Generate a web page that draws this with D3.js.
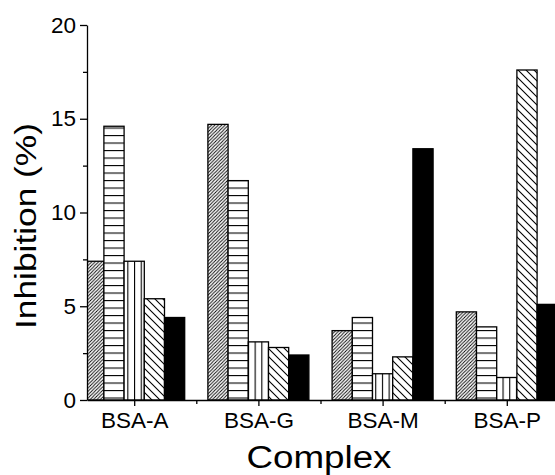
<!DOCTYPE html>
<html>
<head>
<style>
  body { margin: 0; background: #fff; }
  .axis text { font-family: "Liberation Sans", Arial, sans-serif; font-size: 22.5px; fill: #000; }
  .axis path, .axis line { stroke: #000; stroke-width: 1.3px; }
  .title { font-family: "Liberation Sans", Arial, sans-serif; fill: #000; }
</style>
<script src="https://d3js.org/d3.v7.min.js"></script>
</head>
<body>
<svg width="555" height="475"></svg>
<script>
// data
var complexes = ["BSA-A", "BSA-G", "BSA-M", "BSA-P"];
var series1 = [7.4, 14.7, 3.7, 4.7];   // "/" hatch
var series2 = [14.6, 11.7, 4.4, 3.9];  // horizontal lines
var series3 = [7.4, 3.1, 1.4, 1.2];    // vertical lines
var series4 = [5.4, 2.8, 2.3, 17.6];   // "\" hatch
var series5 = [4.4, 2.4, 13.4, 5.1];   // solid
var yTicks = [0, 5, 10, 15, 20];

var allSeries = [series1, series2, series3, series4, series5];
var fills = ["url(#hatchA)", "url(#hatchH)", "url(#hatchV)", "url(#hatchB)", "#000"];

var svg = d3.select("svg");
var plotLeft = 87, plotBottom = 400, plotTop = 25;

var y = d3.scaleLinear().domain([0, 20]).range([plotBottom, plotTop]);
// group index scale, groups sit at 1..4
var x = d3.scaleLinear().domain([0.62, 4.4]).range([plotLeft, plotLeft + 3.78 * 124.2]);
var barW = 20.2;

var defs = svg.append("defs");

function pattern(id, w, h, d, sw) {
  var p = defs.append("pattern")
    .attr("id", id)
    .attr("patternUnits", "userSpaceOnUse")
    .attr("width", w).attr("height", h);
  p.append("rect").attr("width", w).attr("height", h).attr("fill", "#fff");
  p.append("path").attr("d", d).attr("stroke", "#000").attr("stroke-width", sw).attr("fill", "none");
}
pattern("hatchA", 3.4, 3.4, "M-1,1 L1,-1 M0,3.4 L3.4,0 M2.4,4.4 L4.4,2.4", 0.9);
pattern("hatchH", 10, 7.5, "M0,0.5 H10", 1.2);
pattern("hatchV", 6.7, 10, "M0.5,0 V10", 1.2);
pattern("hatchB", 8, 8, "M-2,6 L2,10 M0,0 L8,8 M6,-2 L10,2", 1.1);

defs.append("clipPath").attr("id", "plot")
  .append("rect").attr("x", plotLeft).attr("y", 0).attr("width", 555 - plotLeft).attr("height", plotBottom);

// bars
var bars = svg.append("g").attr("clip-path", "url(#plot)");
allSeries.forEach(function (vals, j) {
  bars.selectAll(".s" + j)
    .data(vals)
    .enter().append("rect")
    .attr("class", "s" + j)
    .attr("x", function (d, i) { return x(i + 1) + (j - 2.5) * barW; })
    .attr("y", function (d) { return y(d); })
    .attr("width", barW)
    .attr("height", function (d) { return y(0) - y(d); })
    .attr("fill", fills[j])
    .attr("stroke", "#000")
    .attr("stroke-width", 1.3);
});

// y axis with minor ticks
svg.append("g")
  .attr("class", "axis")
  .attr("transform", "translate(" + plotLeft + ",0)")
  .call(d3.axisLeft(y).tickValues([2.5, 7.5, 12.5, 17.5]).tickSize(4).tickFormat(""))
  .select(".domain").remove();
svg.append("g")
  .attr("class", "axis")
  .attr("transform", "translate(" + plotLeft + ",0)")
  .call(d3.axisLeft(y).tickValues(yTicks).tickSize(7).tickSizeOuter(0).tickPadding(4));

// x axis
svg.append("g")
  .attr("class", "axis")
  .attr("transform", "translate(0," + plotBottom + ")")
  .call(d3.axisBottom(x).tickValues([1.5, 2.5, 3.5]).tickSize(4).tickFormat(""))
  .select(".domain").remove();
svg.append("g")
  .attr("class", "axis")
  .attr("transform", "translate(0," + plotBottom + ")")
  .call(d3.axisBottom(x).tickValues([1, 2, 3, 4]).tickSize(6).tickSizeOuter(0).tickPadding(6)
    .tickFormat(function (d) { return complexes[d - 1]; }));

// titles
svg.append("text")
  .attr("class", "title")
  .attr("transform", "translate(36,226) rotate(-90)")
  .attr("text-anchor", "middle")
  .attr("font-size", "30px")
  .attr("textLength", 206)
  .attr("lengthAdjust", "spacingAndGlyphs")
  .text("Inhibition (%)");

svg.append("text")
  .attr("class", "title")
  .attr("x", 319)
  .attr("y", 468)
  .attr("text-anchor", "middle")
  .attr("font-size", "31px")
  .attr("textLength", 145)
  .attr("lengthAdjust", "spacingAndGlyphs")
  .text("Complex");
</script>
</body>
</html>
